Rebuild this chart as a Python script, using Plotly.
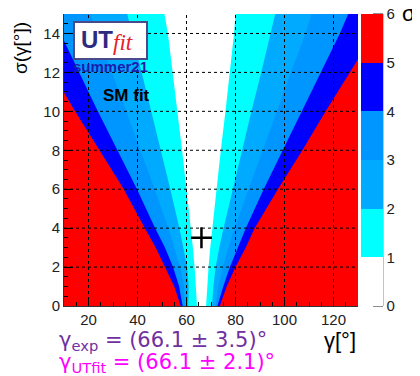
import plotly.graph_objects as go

# ---------------- data ----------------
sigma_pts = [0, 1, 2, 3, 4, 6, 8, 10, 12, 14, 15]

# left / right gamma boundary of the region "pull < k sigma", k = 1..5
left_1 = [64.3, 63.9, 63.3, 62.6, 61.8, 60.0, 58.2, 56.3, 54.4, 52.4, 51.0]
right_1 = [68.0, 68.4, 69.0, 69.7, 70.4, 72.2, 74.0, 75.9, 77.8, 79.4, 80.0]
left_2 = [60.7, 60.9, 60.3, 58.8, 57.1, 53.4, 49.6, 45.7, 41.7, 37.8, 35.8]
right_2 = [70.4, 71.0, 71.9, 73.4, 75.1, 78.8, 82.6, 86.5, 90.5, 94.4, 96.2]
left_3 = [59.3, 59.0, 57.4, 55.1, 52.6, 47.0, 41.3, 35.5, 29.6, 23.6, 20.7]
right_3 = [71.8, 73.0, 74.8, 77.1, 79.6, 85.2, 90.9, 96.8, 102.6, 108.6, 111.0]
left_4 = [58.4, 57.0, 54.5, 51.2, 47.2, 39.8, 31.8, 23.8, 16.2, 8.5, 4.8]
right_4 = [72.6, 75.0, 77.7, 80.8, 84.2, 91.5, 99.2, 107.0, 114.8, 122.6, 126.0]
left_5 = [57.6, 55.0, 51.2, 47.4, 43.0, 34.4, 24.5, 14.5, 5.2, -4.7, -9.6]
right_5 = [73.6, 76.4, 80.0, 84.2, 87.8, 97.3, 107.3, 116.8, 126.6, 136.5, 141.5]

levels = [0, 1, 2, 3, 4, 5, 6]
band_colors = ["#ffffff", "#00ffff", "#00aaff", "#0096ff", "#0000ff", "#ff0000"]

x_ticks = [20, 40, 60, 80, 100, 120]
y_ticks = [2, 4, 6, 8, 10, 12, 14]

gamma_exp = [66.1]
sigma_exp = [3.5]

# page offset (browser body margin) compensation
OFF = 8
W, H = 420 - OFF, 376 - OFF
L, T = 64 - OFF, 14 - OFF
PW, PH = 294, 292

# ---------------- figure ----------------
fig = go.Figure()

bounds = [(left_5, right_5, band_colors[4]),
          (left_4, right_4, band_colors[3]),
          (left_3, right_3, band_colors[2]),
          (left_2, right_2, band_colors[1]),
          (left_1, right_1, band_colors[0])]
for lft, rgt, col in bounds:
    xs = list(lft) + list(reversed(rgt))
    ys = list(sigma_pts) + list(reversed(sigma_pts))
    fig.add_trace(go.Scatter(x=xs, y=ys, fill="toself", fillcolor=col,
                             mode="lines", line=dict(width=0, color=col),
                             hoverinfo="skip", showlegend=False))

# best-fit cross
fig.add_trace(go.Scatter(x=gamma_exp, y=sigma_exp, mode="markers",
                         marker=dict(symbol="cross-thin", size=15,
                                     line=dict(width=2.5, color="black")),
                         showlegend=False, hoverinfo="skip"))


def px(xp):
    return (xp - 64) / PW


def py(yp):
    return (306 - yp) / PH


font = "Liberation Sans, Arial, sans-serif"
wide = "DejaVu Sans, Verdana, sans-serif"

# colour bar (dummy trace)
cs = []
n = len(band_colors)
for i, c in enumerate(band_colors):
    cs.append([i / n, c])
    cs.append([(i + 1) / n, c])
fig.add_trace(go.Scatter(
    x=[None], y=[None], mode="markers", showlegend=False, hoverinfo="skip",
    marker=dict(color=[0], cmin=levels[0], cmax=levels[-1], colorscale=cs,
                showscale=True,
                colorbar=dict(x=px(361), xanchor="left", xref="paper",
                              y=0.5, yanchor="middle", len=1, lenmode="fraction",
                              thickness=22, thicknessmode="pixels",
                              ypad=0, xpad=0, outlinewidth=0,
                              tickvals=levels, ticks="", ticklabeloverflow="allow",
                              tickfont=dict(size=15, color="#222", family=font)))))

shapes = []
for xv in x_ticks:
    shapes.append(dict(type="line", xref="x", yref="paper", x0=xv, x1=xv, y0=0, y1=1,
                       line=dict(color="black", width=1, dash="dot"), layer="above"))
for yv in y_ticks:
    shapes.append(dict(type="line", xref="paper", yref="y", x0=0, x1=1, y0=yv, y1=yv,
                       line=dict(color="black", width=1, dash="dot"), layer="above"))
# colour bar axis line and ticks
shapes.append(dict(type="line", xref="paper", yref="paper",
                   x0=px(383), x1=px(383), y0=0, y1=1,
                   line=dict(color="#888", width=1), layer="above"))
for lv in levels:
    shapes.append(dict(type="line", xref="paper", yref="paper",
                       x0=px(373), x1=px(383), y0=lv / levels[-1], y1=lv / levels[-1],
                       line=dict(color="#222", width=1), layer="above"))
# logo box
shapes.append(dict(type="rect", xref="paper", yref="paper",
                   x0=px(74), x1=px(147), y0=py(59), y1=py(22),
                   fillcolor="white", line=dict(color="#4a4a8a", width=2), layer="above"))

annotations = [
    dict(text="<b>UT</b>", x=px(97), y=py(39), font=dict(size=24, color="#2b2b80", family=font)),
    dict(text="<i>fit</i>", x=px(123), y=py(43), font=dict(size=23, color="#e8202a", family="Liberation Serif, serif")),
    dict(text="<b>summer21</b>", x=px(110.5), y=py(66), font=dict(size=15, color="#1c1cab", family=font)),
    dict(text="<b>SM fit</b>", x=px(126.5), y=py(95), font=dict(size=17, color="black", family=font)),
    dict(text="σ(γ[°])", x=px(20), y=py(48), textangle=-90, font=dict(size=19, color="black", family=font)),
    dict(text="γ[°]", x=px(340), y=py(340), font=dict(size=22, color="black", family=font)),
    dict(text="σ", x=px(409), y=py(13), font=dict(size=22, color="black", family=font)),
    dict(text="γ<sub>exp</sub> = (66.1 ± 3.5)°", x=px(57), y=py(341), xanchor="left",
         font=dict(size=21, color="#7030a0", family=wide)),
    dict(text="γ<sub>UTfit</sub> = (66.1 ± 2.1)°", x=px(57), y=py(363), xanchor="left",
         font=dict(size=21, color="#ff00ff", family=wide)),
]
for a in annotations:
    a.update(xref="paper", yref="paper", showarrow=False)
    a.setdefault("xanchor", "center")
    a.setdefault("yanchor", "middle")

fig.update_layout(
    width=W, height=H,
    margin=dict(l=L, r=W - L - PW, t=T, b=H - T - PH),
    paper_bgcolor="white",
    plot_bgcolor=band_colors[5],
    shapes=shapes,
    annotations=annotations,
    xaxis=dict(range=[10, 130], tickvals=x_ticks, ticks="inside", ticklen=9,
               tickcolor="black", showline=True, linecolor="#333", linewidth=1,
               showgrid=False, zeroline=False, layer="above traces",
               minor=dict(dtick=5, ticks="inside", ticklen=4, tickcolor="black"),
               tickfont=dict(size=15, color="#222", family=font)),
    yaxis=dict(range=[0, 15], tickvals=[0] + y_ticks, ticks="inside", ticklen=9,
               tickcolor="black", showline=True, linecolor="#333", linewidth=1,
               showgrid=False, zeroline=False, layer="above traces",
               minor=dict(dtick=0.5, ticks="inside", ticklen=4, tickcolor="black"),
               tickfont=dict(size=15, color="#222", family=font)),
)

fig.write_html("out.html")
